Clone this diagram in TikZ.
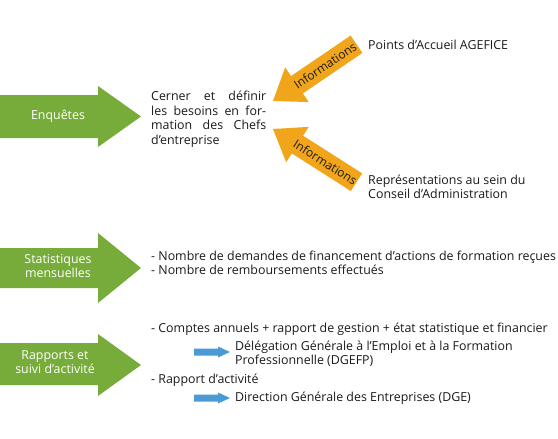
\documentclass[tikz,border=0pt]{standalone}
\usepackage{fontspec}
\setmainfont{Open Sans}
\definecolor{agreen}{HTML}{77AC3A}
\definecolor{aorange}{HTML}{F1A51A}
\definecolor{ablue}{HTML}{4A9AD5}
\definecolor{atext}{HTML}{1A1A1A}
\begin{document}
\begin{tikzpicture}[x=1pt,y=-1pt,
  font=\fontsize{12.4}{13.6}\selectfont,
  greenarrow/.style={fill=agreen},
  orangearrow/.style={fill=aorange},
  bluearrow/.style={fill=ablue},
  glabel/.style={text=white, align=center, inner sep=0pt, font=\fontsize{12.4}{14.5}\selectfont},
  olabel/.style={text=atext, inner sep=0pt, font=\fontsize{12}{14}\selectfont},
  txt/.style={text=atext, anchor=west, align=left, inner sep=0pt}]
\useasboundingbox (0,0) rectangle (558,439);

% green arrows
\fill[greenarrow] (0,95) -- (98,95) -- (98,86) -- (141,116.5) -- (98,147) -- (98,138) -- (0,138) -- cycle;
\fill[greenarrow] (0,248) -- (98,248) -- (98,233) -- (141,268) -- (98,303) -- (98,288) -- (0,288) -- cycle;
\fill[greenarrow] (0,343) -- (98,343) -- (98,334) -- (141,365) -- (98,396) -- (98,385) -- (0,385) -- cycle;
\node[glabel] (enq) at (58,116.5) {Enquêtes};
\node[glabel] (stat) at (58,266) {Statistiques\\mensuelles};
\node[glabel] (rapp) at (55,362) {Rapports et\\suivi d’activité};

% central text
\node[txt, font=\fontsize{12.4}{14.5}\selectfont] (besoins) at (151,119)
  {\hbox to 115pt{Cerner\hfill et\hfill définir}\\
   \hbox to 115pt{les\hfill besoins\hfill en\hfill for-}\\
   \hbox to 115pt{mation\hfill des\hfill Chefs}\\
   d’entreprise};

% orange arrows
\begin{scope}[shift={(273,101)}, rotate=34.2]
  \fill[orangearrow] (0pt,0pt) -- (29pt,21pt) -- (29pt,10.5pt) -- (101pt,10.5pt) -- (101pt,-10.5pt) -- (29pt,-10.5pt) -- (29pt,-21pt) -- cycle;
  \node[olabel, rotate=34.2] (info1) at (63pt,0pt) {Informations};
\end{scope}
\begin{scope}[shift={(273,129)}, rotate=-32.5]
  \fill[orangearrow] (0pt,0pt) -- (29pt,21pt) -- (29pt,10.5pt) -- (99pt,10.5pt) -- (99pt,-10.5pt) -- (29pt,-10.5pt) -- (29pt,-21pt) -- cycle;
  \node[olabel, rotate=-32.5] (info2) at (62pt,0pt) {Informations};
\end{scope}
\node[txt] (agefice) at (368,45) {Points d’Accueil AGEFICE};
\node[txt] (conseil) at (368,187) {Représentations au sein du\\Conseil d’Administration};

% statistiques
\node[txt] (nombre) at (151,263) {- Nombre de demandes de financement d’actions de formation reçues\\- Nombre de remboursements effectués};

% rapports
\node[txt] (comptes) at (151,329) {- Comptes annuels + rapport de gestion + état statistique et financier};
\fill[bluearrow] (194,348.5) -- (218,348.5) -- (218,346.5) -- (230,352) -- (218,357.5) -- (218,355.5) -- (194,355.5) -- cycle;
\node[txt] (dgefp) at (235,354) {Délégation Générale à l’Emploi et à la Formation\\Professionnelle (DGEFP)};
\node[txt] (activite) at (151,380) {- Rapport d’activité};
\fill[bluearrow] (194,394.5) -- (218,394.5) -- (218,392.5) -- (230,398) -- (218,403.5) -- (218,401.5) -- (194,401.5) -- cycle;
\node[txt] (dge) at (235,398.5) {Direction Générale des Entreprises (DGE)};
\end{tikzpicture}
\end{document}
